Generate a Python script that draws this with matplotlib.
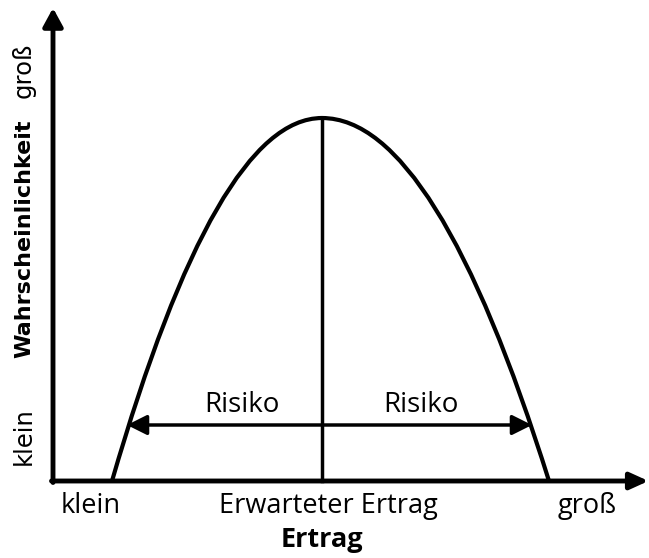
import matplotlib
matplotlib.use("Agg")
import matplotlib.pyplot as plt
from matplotlib.path import Path
from matplotlib.patches import PathPatch

# positions (origin = where the axes meet)
curve_feet = [59, 496]        # where the curve meets the x axis
peak = (269, 363)             # expected return / top of the curve
risk_y = 56
risk_span = [74, 479]         # double arrow ends
risk_labels = ["Risiko", "Risiko"]
risk_label_x = [189, 368]

x_ticks = ["klein", "Erwarteter Ertrag", "groß"]
x_tick_pos = [38, 275, 534]
y_ticks = ["klein", "groß"]
y_tick_pos = [45, 411]
x_title = "Ertrag"
y_title = "Wahrscheinlichkeit"

fig = plt.figure(figsize=(6.49, 5.58), dpi=100)
ax = fig.add_axes([0, 0, 1, 1])
ax.set_xlim(-53, 596)
ax.set_ylim(-77, 481)
ax.axis("off")

# axes with arrow heads
ax.annotate("", xy=(595.5, 0), xytext=(-1.5, 0), annotation_clip=False,
            arrowprops=dict(arrowstyle="-|>,head_length=1.1,head_width=0.5",
                            lw=3.5, color="black", shrinkA=0, shrinkB=0))
ax.annotate("", xy=(0, 473), xytext=(0, -1.5), annotation_clip=False,
            arrowprops=dict(arrowstyle="-|>,head_length=1.1,head_width=0.6",
                            lw=3.5, color="black", shrinkA=0, shrinkB=0))

# bell-like curve: two quadratic Bezier halves meeting at the peak
left, right = curve_feet
px, py = peak
verts = [(left, 0), ((left + px) / 2, py), (px, py),
         ((right + px) / 2, py), (right, 0)]
codes = [Path.MOVETO, Path.CURVE3, Path.CURVE3, Path.CURVE3, Path.CURVE3]
ax.add_patch(PathPatch(Path(verts, codes), fill=False, lw=3, ec="black",
                       capstyle="butt"))

# expected return line
ax.plot([px, px], [0, py], color="black", lw=2.5)

# risk double arrow
ax.annotate("", xy=(risk_span[0], risk_y), xytext=(risk_span[1], risk_y),
            arrowprops=dict(arrowstyle="<|-|>,head_length=1.2,head_width=0.6",
                            lw=2.5, color="black", shrinkA=0, shrinkB=0))
for lab, xx in zip(risk_labels, risk_label_x):
    ax.text(xx, risk_y + 13, lab, ha="center", va="baseline",
            fontsize=20, family="Open Sans")

for lab, xx in zip(x_ticks, x_tick_pos):
    ax.text(xx, -32, lab, ha="center", va="baseline",
            fontsize=19.5, family="Open Sans")
ax.text(px, -66, x_title, ha="center", va="baseline",
        fontsize=19.5, family="Open Sans", fontweight="bold")

for lab, yy in zip(y_ticks, y_tick_pos):
    ax.text(-29, yy, lab, ha="center", va="center", rotation=90,
            fontsize=17.5, family="DejaVu Sans")
ax.text(-29, 242, y_title, ha="center", va="center", rotation=90,
        fontsize=16, family="DejaVu Sans", fontweight="bold")

fig.savefig("out.png", dpi=100)
